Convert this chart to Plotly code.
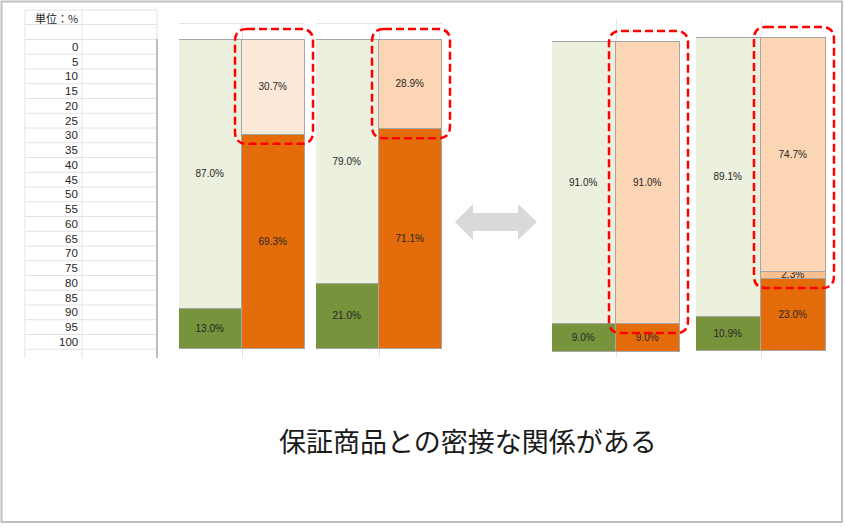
import plotly.graph_objects as go

# ---------------- data ----------------
pair_names = ["pair1", "pair2", "pair3", "pair4"]
bar_categories = ["左", "右"]
green_dark = [13.0, 21.0, 9.0, 10.9]
green_light = [87.0, 79.0, 91.0, 89.1]
orange_base = [69.3, 71.1, 9.0, 23.0]
peach_mid = [0.0, 0.0, 0.0, 2.3]
peach_top = [30.7, 28.9, 91.0, 74.7]
table_ticks = [0, 5, 10, 15, 20, 25, 30, 35, 40, 45, 50, 55, 60, 65, 70, 75, 80, 85, 90, 95, 100]
unit_label = "単位：%"
caption = "保証商品との密接な関係がある"

# ---------------- style / layout ----------------
W, H = 845, 527
C_GREEN_D = "#77933C"
C_GREEN_L = "#EBF1DE"
C_ORANGE = "#E46C0A"
C_PEACH_MID = "#FAC090"
peach_top_colors = ["#FDE9D9", "#FCD5B4", "#FCD5B4", "#FCD5B4"]
OUTLINE = "#A6A6A6"
TXT = "#262626"
FONT = "Liberation Sans, Arial, sans-serif"
JFONT = "Noto Sans CJK JP, sans-serif"

pair_px_x = [(179, 305), (316, 442), (552, 680), (696, 826)]
pair_px_y100 = [40, 40, 42, 38]
pair_px_y0 = [349, 349, 352, 351]
grid_top = [24, 24, 20, 20]
grid_bottom = 358


def fx(x):
    return x / W


def fy(y):
    return 1 - y / H


fig = go.Figure()
layout_axes = {}


def ypx(i, v):
    s = (pair_px_y0[i] - pair_px_y100[i]) / 100.0
    return pair_px_y0[i] - v * s


def fmt(v):
    return f"{v:.1f}%"


for i, name in enumerate(pair_names):
    n = "" if i == 0 else str(i + 1)
    xa, ya = "x" + n, "y" + n
    x0, x1 = pair_px_x[i]
    s = (pair_px_y0[i] - pair_px_y100[i]) / 100.0
    ylo = -(grid_bottom - pair_px_y0[i]) / s
    yhi = 100 + (pair_px_y100[i] - grid_top[i]) / s
    layout_axes["xaxis" + n] = dict(
        domain=[fx(x0), fx(x1)], anchor=ya, type="category",
        categoryorder="array", categoryarray=bar_categories,
        showticklabels=False, ticks="", tickson="boundaries",
        showgrid=True, gridcolor="#E3E3E3", gridwidth=1,
        zeroline=False, side="top",
        showline=(i < 2), linecolor="#E3E3E3", linewidth=1, mirror=False,
    )
    layout_axes["yaxis" + n] = dict(
        domain=[fy(grid_bottom), fy(grid_top[i])], anchor=xa,
        range=[ylo, yhi], showticklabels=False, showgrid=False,
        zeroline=False, ticks="",
    )
    segs = [
        (bar_categories[0], green_dark[i], C_GREEN_D),
        (bar_categories[0], green_light[i], C_GREEN_L),
        (bar_categories[1], orange_base[i], C_ORANGE),
    ]
    if peach_mid[i] > 0:
        segs.append((bar_categories[1], peach_mid[i], C_PEACH_MID))
    segs.append((bar_categories[1], peach_top[i], peach_top_colors[i]))
    for cat, val, col in segs:
        fig.add_trace(go.Bar(
            x=[cat], y=[val], xaxis=xa, yaxis=ya,
            marker=dict(color=col, line=dict(color=OUTLINE, width=1.5)),
            text=[fmt(val)], textposition="inside", insidetextanchor="middle",
            textangle=0, textfont=dict(family=FONT, size=10, color=TXT),
            showlegend=False, hoverinfo="skip", cliponaxis=False,
        ))

shapes = []

# outer border
shapes.append(dict(type="rect", xref="paper", yref="paper",
                   x0=fx(1.5), x1=fx(842), y0=fy(522), y1=fy(1.5),
                   line=dict(color="#BFBFBF", width=2)))

# left table
tbl_x = [25, 82, 157]
row_h = 14.75
first_row_top = 39.5
h_lines = [10, 24.5] + [first_row_top + row_h * k for k in range(len(table_ticks) + 1)]
for y in h_lines:
    shapes.append(dict(type="line", xref="paper", yref="paper",
                       x0=fx(tbl_x[0]), x1=fx(tbl_x[2]), y0=fy(y), y1=fy(y),
                       line=dict(color="#E2E2E2", width=1)))
for x in tbl_x[:2]:
    shapes.append(dict(type="line", xref="paper", yref="paper",
                       x0=fx(x), x1=fx(x), y0=fy(10), y1=fy(358),
                       line=dict(color="#E2E2E2", width=1)))
shapes.append(dict(type="line", xref="paper", yref="paper",
                   x0=fx(tbl_x[2]), x1=fx(tbl_x[2]), y0=fy(10), y1=fy(39),
                   line=dict(color="#E2E2E2", width=1)))
shapes.append(dict(type="line", xref="paper", yref="paper",
                   x0=fx(tbl_x[2]), x1=fx(tbl_x[2]), y0=fy(39), y1=fy(358),
                   line=dict(color="#BDBDBD", width=2)))

annotations = []
annotations.append(dict(text=unit_label, xref="paper", yref="paper",
                        x=fx(80), y=fy(17.5), xanchor="right", yanchor="middle",
                        showarrow=False, font=dict(family=JFONT, size=11, color=TXT)))
for k, t in enumerate(table_ticks):
    yc = first_row_top + row_h * (k + 0.5)
    annotations.append(dict(text=str(t), xref="paper", yref="paper",
                            x=fx(80), y=fy(yc), xanchor="right", yanchor="middle",
                            showarrow=False, font=dict(family=FONT, size=11.5, color=TXT)))


# red dashed rounded boxes around the right bar's upper segments
def rounded_path(x0, y0, x1, y1, r):
    def P(x, y):
        return f"{fx(x):.5f},{fy(y):.5f}"
    return (f"M {P(x0 + r, y0)} L {P(x1 - r, y0)} Q {P(x1, y0)} {P(x1, y0 + r)} "
            f"L {P(x1, y1 - r)} Q {P(x1, y1)} {P(x1 - r, y1)} "
            f"L {P(x0 + r, y1)} Q {P(x0, y1)} {P(x0, y1 - r)} "
            f"L {P(x0, y0 + r)} Q {P(x0, y0)} {P(x0 + r, y0)} Z")


for i in range(len(pair_names)):
    x0, x1 = pair_px_x[i]
    xm = (x0 + x1) / 2
    bx0, bx1 = xm - 7, x1 + 8
    by0 = pair_px_y100[i] - 11
    by1 = ypx(i, orange_base[i]) + 9
    shapes.append(dict(type="path", xref="paper", yref="paper",
                       path=rounded_path(bx0, by0, bx1, by1, 12),
                       line=dict(color="#FF0000", width=2.5, dash="8px,4px")))

# double-headed arrow
arrow_pts = [(455, 222), (473, 204), (473, 213), (518, 213), (518, 204),
             (537, 222), (518, 240), (518, 231), (473, 231), (473, 240)]
arrow_path = "M " + " L ".join(f"{fx(x):.5f},{fy(y):.5f}" for x, y in arrow_pts) + " Z"
shapes.append(dict(type="path", xref="paper", yref="paper", path=arrow_path,
                   fillcolor="#D9D9D9", line=dict(width=0)))

annotations.append(dict(text=caption, xref="paper", yref="paper",
                        x=fx(468), y=fy(440), xanchor="center", yanchor="middle",
                        showarrow=False, font=dict(family=JFONT, size=27, color="#1A1A1A")))

fig.update_layout(
    width=W, height=H, margin=dict(l=0, r=0, t=0, b=0),
    paper_bgcolor="white", plot_bgcolor="rgba(0,0,0,0)",
    barmode="stack", bargap=0,
    uniformtext=dict(minsize=10, mode="show"),
    shapes=shapes, annotations=annotations, showlegend=False,
    **layout_axes,
)
fig.write_html("out.html", config={"displayModeBar": False},
               post_script="document.body.style.margin='0';document.body.style.overflow='hidden';")
